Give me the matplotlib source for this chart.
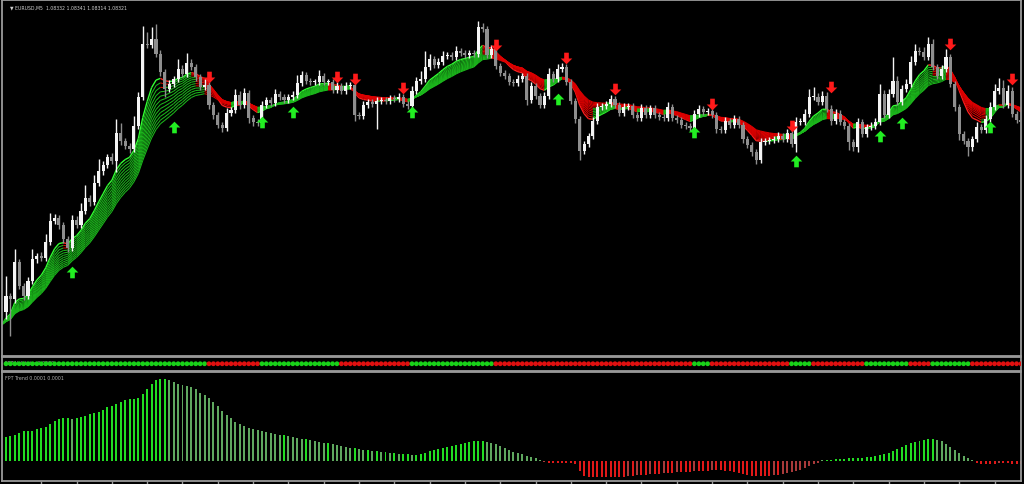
import numpy as np
import matplotlib
matplotlib.use("Agg")
import matplotlib.pyplot as plt
from matplotlib.collections import LineCollection
from matplotlib.path import Path

# ---------------- data (prices in points: price = 1.08000 + pts * 0.00001) ----------------
first_open = 127
closes = [143, 140, 177, 153, 143, 158, 180, 183, 181, 197,
          218, 221, 214, 200, 191, 219, 214, 228, 241, 237,
          256, 268, 274, 282, 278, 306, 298, 293, 290, 313,
          342, 395, 394, 400, 385, 367, 350, 355, 360, 370,
          365, 376, 372, 362, 352, 354, 334, 324, 314, 311,
          326, 329, 344, 334, 346, 321, 317, 316, 334, 339,
          336, 345, 342, 339, 342, 344, 356, 364, 358, 357,
          357, 363, 357, 357, 349, 353, 348, 353, 354, 324,
          323, 334, 337, 335, 338, 339, 338, 341, 340, 342,
          335, 333, 348, 358, 360, 372, 380, 374, 377, 383,
          384, 382, 388, 386, 384, 386, 385, 412, 410, 384,
          390, 373, 366, 363, 357, 356, 360, 363, 339, 353,
          343, 334, 343, 365, 360, 370, 372, 357, 338, 320,
          288, 295, 303, 318, 332, 333, 335, 340, 334, 326,
          332, 333, 324, 321, 331, 324, 331, 324, 322, 321,
          332, 321, 319, 314, 313, 311, 325, 330, 327, 328,
          324, 310, 309, 318, 314, 320, 314, 300, 294, 287,
          279, 297, 298, 299, 300, 303, 300, 306, 295, 317,
          317, 325, 342, 342, 337, 343, 330, 318, 325, 317,
          313, 297, 292, 317, 305, 312, 313, 317, 345, 324,
          345, 358, 337, 350, 355, 377, 388, 387, 382, 395,
          372, 363, 370, 382, 355, 332, 305, 298, 292, 300,
          312, 309, 320, 332, 348, 351, 334, 348, 325, 319,
          317]
upper_wick = [20, 3, 13, 3, 3, 4, 10, 3, 4, 8,
              8, 4, 3, 3, 3, 5, 4, 8, 13, 3,
              8, 12, 4, 3, 4, 14, 10, 3, 3, 10,
              5, 18, 12, 12, 15, 4, 3, 4, 3, 10,
              4, 10, 4, 3, 3, 6, 4, 3, 3, 3,
              5, 3, 6, 4, 5, 3, 3, 3, 4, 3,
              3, 5, 3, 3, 3, 4, 8, 4, 3, 3,
              3, 6, 3, 3, 3, 4, 3, 4, 3, 3,
              3, 4, 3, 3, 4, 3, 3, 3, 3, 4,
              3, 3, 5, 4, 8, 16, 5, 3, 4, 5,
              3, 3, 5, 3, 3, 3, 3, 6, 4, 3,
              4, 3, 3, 3, 3, 3, 4, 3, 3, 4,
              3, 3, 4, 6, 3, 5, 4, 3, 3, 3,
              3, 3, 3, 4, 4, 3, 3, 4, 3, 3,
              4, 3, 3, 3, 4, 3, 3, 3, 3, 3,
              5, 3, 3, 3, 3, 3, 4, 4, 3, 3,
              3, 3, 3, 4, 3, 4, 3, 3, 3, 3,
              3, 4, 3, 3, 3, 4, 3, 4, 3, 5,
              4, 5, 8, 10, 4, 5, 4, 4, 5, 4,
              3, 3, 3, 4, 3, 3, 4, 4, 10, 4,
              5, 24, 5, 4, 5, 6, 7, 4, 5, 7,
              5, 3, 4, 8, 3, 3, 3, 3, 3, 3,
              5, 3, 4, 5, 7, 10, 8, 6, 4, 3,
              3]
lower_wick = [7, 37, 4, 3, 4, 3, 3, 4, 3, 3,
              3, 3, 4, 4, 4, 3, 3, 3, 3, 4,
              3, 3, 4, 3, 3, 11, 4, 3, 4, 3,
              3, 3, 3, 3, 3, 4, 8, 3, 3, 3,
              3, 3, 3, 4, 3, 3, 4, 4, 3, 4,
              3, 3, 3, 4, 3, 5, 4, 3, 3, 3,
              3, 3, 3, 3, 3, 3, 3, 3, 3, 3,
              3, 3, 3, 3, 3, 3, 3, 3, 3, 6,
              3, 3, 3, 3, 25, 3, 3, 3, 3, 3,
              3, 3, 3, 3, 3, 3, 3, 3, 3, 3,
              3, 3, 3, 3, 3, 3, 3, 3, 3, 3,
              3, 3, 3, 3, 3, 3, 3, 3, 5, 3,
              3, 3, 3, 3, 3, 3, 3, 3, 3, 4,
              9, 3, 3, 3, 3, 3, 3, 3, 3, 3,
              3, 3, 3, 3, 3, 3, 3, 3, 3, 3,
              3, 3, 3, 3, 3, 3, 3, 3, 3, 3,
              3, 4, 3, 3, 3, 3, 3, 4, 3, 4,
              4, 3, 3, 3, 3, 3, 3, 3, 3, 8,
              3, 3, 3, 3, 3, 3, 3, 4, 3, 3,
              3, 8, 4, 5, 3, 3, 3, 3, 3, 3,
              3, 3, 3, 3, 3, 3, 3, 3, 3, 3,
              3, 3, 3, 3, 3, 4, 6, 3, 9, 4,
              3, 3, 3, 3, 3, 3, 3, 3, 3, 3,
              3]

# ribbon: moving-average periods and level before the visible window
ribbon_periods = [8, 9, 10, 11, 12, 13, 14, 15, 16, 17, 18, 19]
ribbon_seed = 115

# signal arrows (bar index, level)
buy_idx = [15, 38, 58, 65, 92, 125, 156, 179, 198, 203, 223]
buy_lvl = [167, 312, 317, 327, 327, 340, 307, 278, 303, 316, 312]
sell_idx = [46, 75, 79, 90, 111, 127, 138, 160, 178, 187, 214, 228]
sell_lvl = [362, 362, 360, 351, 394, 381, 350, 335, 313, 352, 395, 360]

# FPT Validator dots (runs of colour)
dot_runs = [("g", 46), ("r", 12), ("g", 18), ("r", 16), ("g", 19), ("r", 45),
            ("g", 4), ("r", 18), ("g", 5), ("r", 12), ("g", 10), ("r", 5),
            ("g", 9), ("r", 12)]

# FPT Trend histogram
trend = [24, 25, 26, 28, 30, 30, 30, 32, 33, 34,
         37, 40, 42, 43, 43, 42, 43, 44, 45, 47,
         48, 49, 51, 54, 55, 57, 59, 61, 62, 62,
         63, 67, 72, 77, 81, 82, 82, 81, 79, 77,
         76, 75, 74, 72, 68, 66, 63, 59, 55, 50,
         46, 43, 39, 37, 35, 33, 32, 31, 30, 29,
         28, 27, 26, 26, 25, 24, 23, 22, 22, 21,
         20, 19, 18, 18, 17, 16, 15, 14, 13, 13,
         12, 11, 11, 10, 10, 9, 9, 8, 8, 7,
         7, 7, 6, 6, 7, 8, 10, 11, 12, 13,
         14, 15, 16, 17, 18, 19, 20, 20, 20, 19,
         18, 17, 15, 13, 11, 9, 8, 7, 5, 4,
         3, 1.5, -1, -1.5, -1.5, -1.5, -1.5, -1.5, -1.5, -3,
         -10, -15, -16, -16, -16, -16, -16, -16, -16, -16,
         -16, -15, -15, -14, -14, -14, -13, -13, -13, -12,
         -12, -12, -11, -11, -11, -11, -10, -10, -10, -10,
         -9, -9, -9, -10, -10, -11, -12, -13, -14, -15,
         -15, -15, -15, -15, -14, -14, -13, -12, -11, -10,
         -9, -7, -5, -3, -2, 1, 1, 1, 2, 2,
         2, 3, 3, 3, 3, 4, 4, 5, 6, 7,
         8, 10, 12, 14, 16, 18, 19, 20, 21, 22,
         22, 21, 20, 17, 14, 11, 8, 5, 3, 1,
         -2, -3, -3, -3, -3, -2, -2, -2, -3, -3,
         -3]

title = "\u25BC EURUSD,M5  1.08332 1.08341 1.08314 1.08321"
validator_label = "FPT Validator 1.0000"
trend_label = "FPT Trend 0.0001 0.0001"

# ---------------- figure ----------------
W, H = 1024, 485
fig = plt.figure(figsize=(W / 100, H / 100), dpi=100, facecolor="black")


def px_axes(x0, y0, x1, y1):
    ax = fig.add_axes([x0 / W, 1 - y1 / H, (x1 - x0) / W, (y1 - y0) / H])
    ax.set_facecolor("black")
    for s in ax.spines.values():
        s.set_color("#9a9a9a")
        s.set_linewidth(1.3)
    ax.set_xticks([])
    ax.set_yticks([])
    return ax


n = len(closes)
idx = np.arange(n)
x_left, x_right = -0.9, 230.0

closes_a = np.array(closes, dtype=float)
opens_a = np.concatenate([[first_open], closes_a[:-1]])
highs = np.maximum(opens_a, closes_a) + np.array(upper_wick)
lows = np.minimum(opens_a, closes_a) - np.array(lower_wick)

# ---- main panel ----
ax = px_axes(2, 1, 1021, 356.5)
ax.set_xlim(x_left, x_right)
ax.set_ylim(84, 439)

# ribbon
for j, p in enumerate(ribbon_periods):
    a = 2.0 / (p + 1)
    e = np.empty(n)
    prev = ribbon_seed
    for i in range(n):
        prev = prev + a * (closes_a[i] - prev)
        e[i] = prev
    xs = np.concatenate([[x_left], idx])
    ys = np.concatenate([[ribbon_seed], e])
    segs = np.stack([np.column_stack([xs[:-1], ys[:-1]]),
                     np.column_stack([xs[1:], ys[1:]])], axis=1)
    up = ys[1:] >= ys[:-1]
    bright = (j == 0)
    gcol = "#33ff33" if bright else "#1cb81c"
    rcol = "#ff2020" if bright else "#dd0000"
    cols = [gcol if u else rcol for u in up]
    ax.add_collection(LineCollection(segs, colors=cols, linewidths=1.0 if bright else 0.75,
                                     zorder=2))

bull = closes_a >= opens_a
body_bot = np.minimum(opens_a, closes_a)
body_h = np.maximum(np.abs(closes_a - opens_a), 1.2)
ccol = np.where(bull, "#f4f4f4", "#8e8e8e")
ax.vlines(idx, lows, highs, colors=ccol, linewidth=1.0, zorder=3)
ax.bar(idx, body_h, bottom=body_bot, width=0.7, color=ccol, linewidth=0, zorder=4)

up_arrow = Path([(0, 0.5), (0.5, 0.0), (0.2, 0.0), (0.2, -0.5), (-0.2, -0.5), (-0.2, 0.0),
                 (-0.5, 0.0), (0, 0.5)], closed=True)
dn_arrow = Path([(0, -0.5), (0.5, 0.0), (0.2, 0.0), (0.2, 0.5), (-0.2, 0.5), (-0.2, 0.0),
                 (-0.5, 0.0), (0, -0.5)], closed=True)
ax.scatter(buy_idx, buy_lvl, marker=up_arrow, s=70, color="#22ee22", linewidths=0, zorder=5)
ax.scatter(sell_idx, sell_lvl, marker=dn_arrow, s=70, color="#ff1a1a", linewidths=0, zorder=5)

ax.text(8 / 1019, 1 - 4 / 355.5, title, transform=ax.transAxes, color="#d0d0d0",
        fontsize=3.3, va="top", ha="left", family="DejaVu Sans")

# ---- validator dots ----
axd = px_axes(2, 358, 1021, 371.5)
axd.set_xlim(x_left, x_right)
axd.set_ylim(-1, 1)
dot_cols = []
for c, k in dot_runs:
    dot_cols += [("#19d219" if c == "g" else "#e01010")] * k
dot_cols = dot_cols[:n] + ["#e01010"] * max(0, n - len(dot_cols))
axd.text(3 / 1019, 0.62, validator_label, transform=axd.transAxes, color="#b0b0b0",
         fontsize=3.4, va="center", ha="left", zorder=1)
axd.scatter(idx, np.zeros(n), s=12, c=dot_cols, linewidths=0, zorder=3)

# ---- trend histogram ----
axh = px_axes(2, 372.5, 1021, 482)
axh.set_xlim(x_left, x_right)
axh.set_ylim(-19.7, 89.5)
tr = np.array(trend, dtype=float)
mag = np.abs(tr)
rising = np.concatenate([[True], mag[1:] >= mag[:-1]])
hcols = []
for v, r in zip(tr, rising):
    if v >= 0:
        hcols.append("#22dd22" if r else "#5fa85f")
    else:
        hcols.append("#e01818" if r else "#a83a3a")
axh.bar(idx, tr, width=0.45, color=hcols, linewidth=0)
axh.text(3 / 1019, 1 - 4 / 109.5, trend_label, transform=axh.transAxes, color="#b0b0b0",
         fontsize=3.4, va="top", ha="left")
axh.set_xticks(np.arange(8, n, 8))
axh.tick_params(axis="x", colors="#9a9a9a", length=3, width=1, labelbottom=False)

fig.savefig("out.png", dpi=100, facecolor="black")
